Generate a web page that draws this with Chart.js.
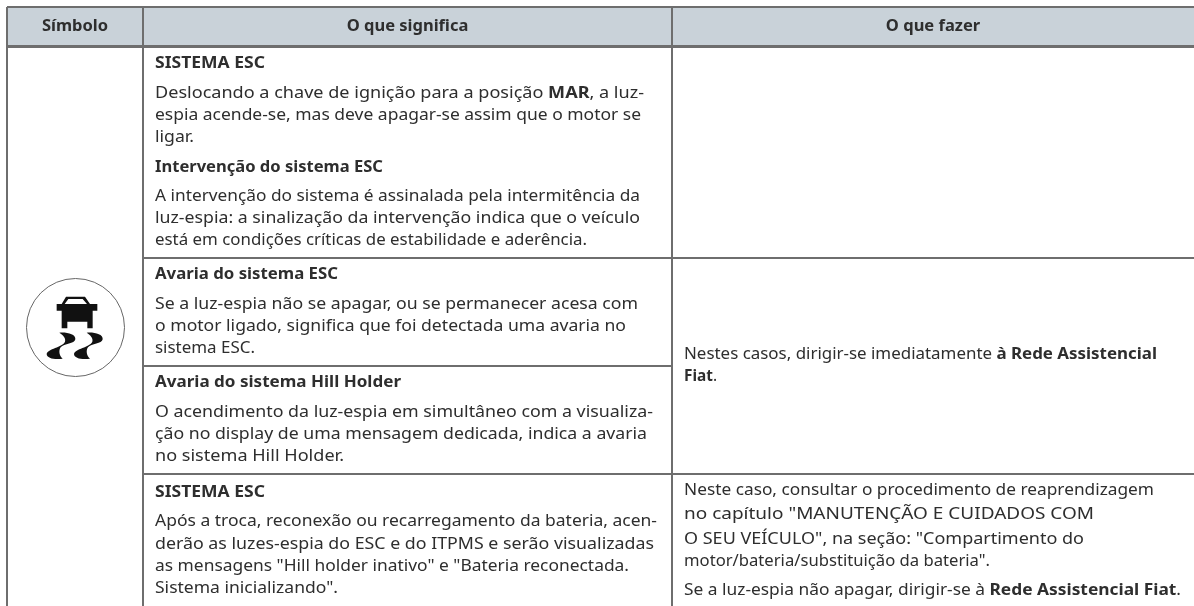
<!DOCTYPE html>
<html>
<head>
<meta charset="utf-8">
<title>Símbolo</title>
<script src="https://cdn.jsdelivr.net/npm/chart.js@4/dist/chart.umd.min.js"></script>
<style>
html,body{margin:0;padding:0;background:#fff;}
canvas{display:block;}
</style>
</head>
<body>
<canvas id="tabela" width="1194" height="606"></canvas>
<script>
// texto da tabela, ** marca negrito
var cabecalhos = ['Símbolo', 'O que significa', 'O que fazer'];
var colunaSignifica = [
    '**SISTEMA ESC**',
    'Deslocando a chave de ignição para a posição **MAR**, a luz-',
    'espia acende-se, mas deve apagar-se assim que o motor se',
    'ligar.',
    '**Intervenção do sistema ESC**',
    'A intervenção do sistema é assinalada pela intermitência da',
    'luz-espia: a sinalização da intervenção indica que o veículo',
    'está em condições críticas de estabilidade e aderência.',
    '**Avaria do sistema ESC**',
    'Se a luz-espia não se apagar, ou se permanecer acesa com',
    'o motor ligado, significa que foi detectada uma avaria no',
    'sistema ESC.',
    '**Avaria do sistema Hill Holder**',
    'O acendimento da luz-espia em simultâneo com a visualiza-',
    'ção no display de uma mensagem dedicada, indica a avaria',
    'no sistema Hill Holder.',
    '**SISTEMA ESC**',
    'Após a troca, reconexão ou recarregamento da bateria, acen-',
    'derão as luzes-espia do ESC e do ITPMS e serão visualizadas',
    'as mensagens "Hill holder inativo" e "Bateria reconectada.',
    'Sistema inicializando".'
];
var colunaFazer = [
    'Nestes casos, dirigir-se imediatamente **à Rede Assistencial**',
    '**Fiat**.',
    'Neste caso, consultar o procedimento de reaprendizagem',
    'no capítulo "MANUTENÇÃO E CUIDADOS COM',
    'O SEU VEÍCULO", na seção: "Compartimento do',
    'motor/bateria/substituição da bateria".',
    'Se a luz-espia não apagar, dirigir-se à **Rede Assistencial Fiat**.'
];

// posicoes
var linhaBaseSignifica = [68.3,98,120,141.7,171.7,201,222.7,245,279.3,309,331,352.7,387.3,417.3,439,460.7,497.3,526,548.7,571,592.7];
var fimSignifica = [265,644,641,194,383,640,640,587,338,638,626,255,401,653,647,344,265,657,654,629,338];
var linhaBaseFazer = [359.3,381,495,519,544.3,566,595];
var fimFazer = [1157,717,1154,1094,1084,990,1181];
var centrosCabecalho = [75,407.5,933];

var faixaCabecalho = [[7,45],[1194,45]];
var regras = [
    [[7,7],[1194,7]],
    [[7,7],[7,606]],
    [[143,7],[143,606]],
    [[672,7],[672,606]],
    [[143,258],[1194,258]],
    [[143,366],[672,366]],
    [[143,474],[1194,474]]
];
var regraCabecalho = [[7,46.5],[1194,46.5]];
var centroIcone = [[75.5,327.5]];

var COR_TEXTO = '#2e2e2e';
var COR_REGRA = '#6e6e6e';
var FONTE = '"Noto Sans"';
var TAM = 16;

function ponto(p){ return {x:p[0], y:p[1]}; }

function desenharLinha(ctx, texto, x, y, fim){
    var partes = texto.split('**');
    var total = 0, i;
    for(i=0;i<partes.length;i++){
        ctx.font = (i%2 ? 'bold ' : '')+TAM+'px '+FONTE;
        total += ctx.measureText(partes[i]).width;
    }
    ctx.save();
    ctx.translate(x,y);
    ctx.scale((fim-x)/total,1);
    var px = 0;
    for(i=0;i<partes.length;i++){
        ctx.font = (i%2 ? 'bold ' : '')+TAM+'px '+FONTE;
        ctx.fillText(partes[i],px,0);
        px += ctx.measureText(partes[i]).width;
    }
    ctx.restore();
}

function desenharIcone(ctx, sx, sy){
    // carro e curvas em pixels do icone (origem em 40,290, escala 1/3)
    ctx.save();
    ctx.translate(sx(40),sy(290));
    ctx.scale(1/3,1/3);
    ctx.fillStyle = '#111';
    ctx.fill(new Path2D('M78 20 L135 20 L150 42 L172 42 L172 62 L158 62 L158 115 L142 115 L142 95 L82 95 L82 115 L65 115 L65 62 L50 62 L50 42 L65 42 Z M85 27 L128 27 L141 42 L74 42 Z'),'evenodd');
    var curva = 'M58 128 C80 126 108 132 106 148 C104 162 72 160 62 172 C55 182 58 198 68 206 C45 210 20 205 20 192 C22 176 68 172 75 155 C78 145 70 135 58 128 Z';
    ctx.fill(new Path2D(curva));
    ctx.translate(82,0);
    ctx.fill(new Path2D(curva));
    ctx.restore();
}

var pluginTexto = {
    id:'textoTabela',
    afterDatasetsDraw:function(chart){
        var ctx = chart.ctx;
        var sx = function(v){ return chart.scales.x.getPixelForValue(v); };
        var sy = function(v){ return chart.scales.y.getPixelForValue(v); };
        ctx.save();
        ctx.fillStyle = COR_TEXTO;
        ctx.textBaseline = 'alphabetic';
        ctx.textAlign = 'center';
        ctx.font = 'bold 16.5px '+FONTE;
        for(var i=0;i<cabecalhos.length;i++){
            ctx.fillText(cabecalhos[i],sx(centrosCabecalho[i]),sy(31));
        }
        ctx.textAlign = 'left';
        for(i=0;i<colunaSignifica.length;i++){
            desenharLinha(ctx,colunaSignifica[i],sx(155),sy(linhaBaseSignifica[i]),sx(fimSignifica[i]));
        }
        for(i=0;i<colunaFazer.length;i++){
            desenharLinha(ctx,colunaFazer[i],sx(684),sy(linhaBaseFazer[i]),sx(fimFazer[i]));
        }
        desenharIcone(ctx,sx,sy);
        ctx.restore();
    }
};

var conjuntos = [{
    data:faixaCabecalho.map(ponto),
    borderWidth:0,
    backgroundColor:'#c9d2d9',
    fill:{value:8},
    pointRadius:0,
    order:3
}];
regras.forEach(function(r){
    conjuntos.push({
        data:r.map(ponto),
        borderColor:COR_REGRA,
        borderWidth:2,
        pointRadius:0,
        order:2
    });
});
conjuntos.push({
    data:regraCabecalho.map(ponto),
    borderColor:COR_REGRA,
    borderWidth:3,
    pointRadius:0,
    order:2
});
conjuntos.push({
    data:centroIcone.map(ponto),
    showLine:false,
    pointRadius:49,
    pointBackgroundColor:'#fff',
    pointBorderColor:'#666',
    pointBorderWidth:1,
    order:1
});

new Chart(document.getElementById('tabela').getContext('2d'),{
    type:'line',
    data:{datasets:conjuntos},
    options:{
        responsive:false,
        animation:false,
        layout:{padding:0,autoPadding:false},
        plugins:{legend:{display:false},tooltip:{enabled:false}},
        scales:{
            x:{type:'linear',display:false,min:0,max:1194},
            y:{type:'linear',display:false,min:0,max:606,reverse:true}
        }
    },
    plugins:[pluginTexto]
});
</script>
</body>
</html>
